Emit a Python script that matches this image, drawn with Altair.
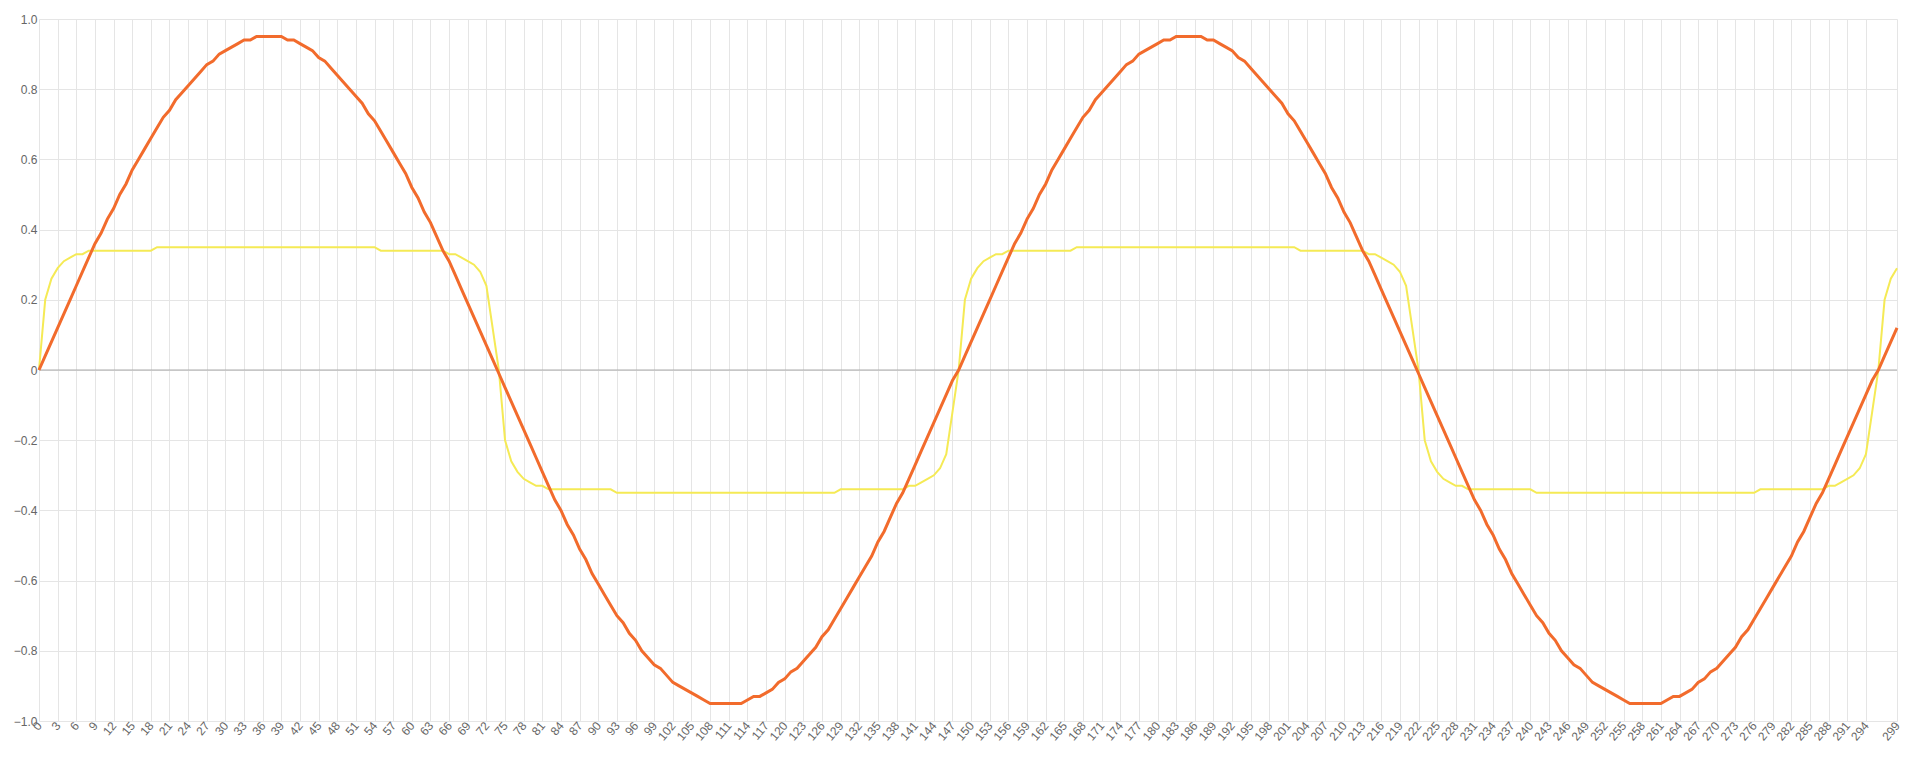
import altair as alt
import pandas as pd

# one cycle (148 samples) of the orange series
ORANGE_CYCLE = [
    0.00, 0.04, 0.08, 0.12, 0.16, 0.20, 0.24, 0.28, 0.32, 0.36, 0.39, 0.43, 0.46, 0.50, 0.53, 0.57,
    0.60, 0.63, 0.66, 0.69, 0.72, 0.74, 0.77, 0.79, 0.81, 0.83, 0.85, 0.87, 0.88, 0.90, 0.91, 0.92,
    0.93, 0.94, 0.94, 0.95, 0.95, 0.95, 0.95, 0.95, 0.94, 0.94, 0.93, 0.92, 0.91, 0.89, 0.88, 0.86,
    0.84, 0.82, 0.80, 0.78, 0.76, 0.73, 0.71, 0.68, 0.65, 0.62, 0.59, 0.56, 0.52, 0.49, 0.45, 0.42,
    0.38, 0.34, 0.31, 0.27, 0.23, 0.19, 0.15, 0.11, 0.07, 0.03,
    -0.01, -0.05, -0.09, -0.13, -0.17, -0.21, -0.25, -0.29, -0.33, -0.37, -0.40, -0.44, -0.47, -0.51,
    -0.54, -0.58, -0.61, -0.64, -0.67, -0.70, -0.72, -0.75, -0.77, -0.80, -0.82, -0.84, -0.85, -0.87,
    -0.89, -0.90, -0.91, -0.92, -0.93, -0.94, -0.95, -0.95, -0.95, -0.95, -0.95, -0.95, -0.94, -0.93,
    -0.93, -0.92, -0.91, -0.89, -0.88, -0.86, -0.85, -0.83, -0.81, -0.79, -0.76, -0.74, -0.71, -0.68,
    -0.65, -0.62, -0.59, -0.56, -0.53, -0.49, -0.46, -0.42, -0.38, -0.35, -0.31, -0.27, -0.23, -0.19,
    -0.15, -0.11, -0.07, -0.03,
]

# positive half-cycle (74 samples) of the yellow series
YELLOW_HALF = [
    0.00, 0.20, 0.26, 0.29, 0.31, 0.32, 0.33, 0.33, 0.34,
    0.34, 0.34, 0.34, 0.34, 0.34, 0.34, 0.34, 0.34, 0.34, 0.34,
    0.35, 0.35, 0.35, 0.35, 0.35, 0.35, 0.35, 0.35, 0.35, 0.35, 0.35, 0.35,
    0.35, 0.35, 0.35, 0.35, 0.35, 0.35, 0.35, 0.35, 0.35, 0.35, 0.35, 0.35,
    0.35, 0.35, 0.35, 0.35, 0.35, 0.35, 0.35, 0.35, 0.35, 0.35, 0.35, 0.35,
    0.34, 0.34, 0.34, 0.34, 0.34, 0.34, 0.34, 0.34, 0.34, 0.34,
    0.34, 0.33, 0.33, 0.32, 0.31, 0.30, 0.28, 0.24, 0.12,
]
YELLOW_CYCLE = YELLOW_HALF + [-v for v in YELLOW_HALF]

orange = (ORANGE_CYCLE * 3)[:300]
yellow = (YELLOW_CYCLE * 3)[:300]
x_vals = list(range(300))
x_ticks = list(range(0, 297, 3)) + [299]

df = pd.concat([
    pd.DataFrame({'x': x_vals, 'y': yellow, 's': 'b'}),
    pd.DataFrame({'x': x_vals, 'y': orange, 's': 'a'}),
])

base = alt.Chart(df)

zero = alt.Chart(pd.DataFrame({'y': [0]})).mark_rule(color='#aaaaaa').encode(y='y:Q')

lines = base.mark_line(interpolate='linear').encode(
    x=alt.X('x:Q', scale=alt.Scale(domain=[0, 299], nice=False),
            axis=alt.Axis(values=x_ticks, labelAngle=-50, title=None, labelFontSize=12,
                          labelOverlap=False, labelColor='#666', gridColor='#e5e5e5',
                          domain=False, ticks=False)),
    y=alt.Y('y:Q', scale=alt.Scale(domain=[-1, 1]),
            axis=alt.Axis(values=[-1, -0.8, -0.6, -0.4, -0.2, 0, 0.2, 0.4, 0.6, 0.8, 1],
                          labelExpr="datum.value == 0 ? '0' : format(datum.value, '.1f')",
                          title=None, labelFontSize=12, labelColor='#666',
                          gridColor='#e5e5e5', domain=False, ticks=False)),
    color=alt.Color('s:N', scale=alt.Scale(domain=['a', 'b'], range=['#f26b2c', '#f5ea55']),
                    legend=None),
    strokeWidth=alt.StrokeWidth('s:N', scale=alt.Scale(domain=['a', 'b'], range=[3, 2]),
                                legend=None),
    detail='s:N',
    order=alt.Order('x:Q'),
)

chart = alt.layer(zero, lines).properties(
    width=1900, height=740,
    autosize=alt.AutoSizeParams(type='fit', contains='padding'),
).configure_view(stroke=None).configure_axis(labelFont='Helvetica')

chart.save("out.html", embed_options={"renderer": "svg", "actions": False})
